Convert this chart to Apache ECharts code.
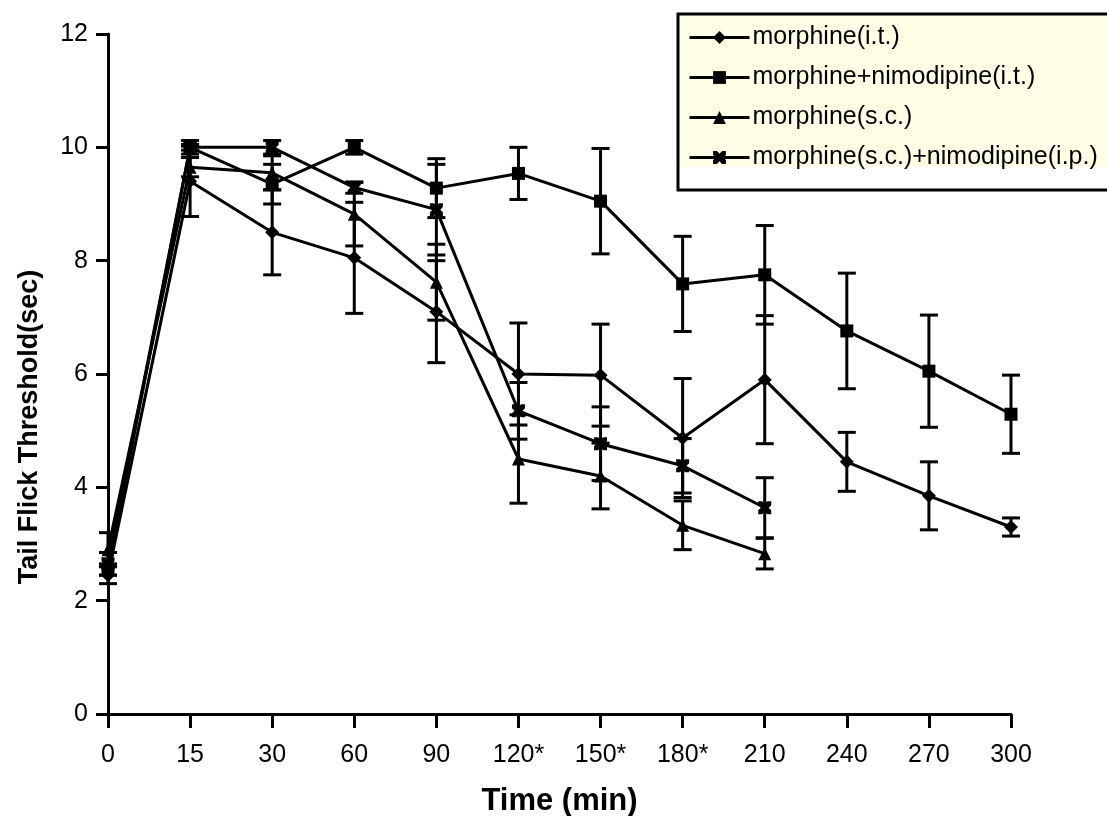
<!DOCTYPE html>
<html>
<head>
<meta charset="utf-8">
<script src="https://cdn.jsdelivr.net/npm/echarts@6/dist/echarts.min.js"></script>
<style>
html,body{margin:0;padding:0;background:#fff;}
#chart{width:1107px;height:816px;}
</style>
</head>
<body>
<div id="chart"></div>
<script>
var categories = ['0','15','30','60','90','120*','150*','180*','210','240','270','300'];
var yTicks = [0, 2, 4, 6, 8, 10, 12];

var seriesNames = ['morphine(i.t.)','morphine+nimodipine(i.t.)','morphine(s.c.)','morphine(s.c.)+nimodipine(i.p.)'];

var morphineIT      = [2.45, 9.4, 8.5, 8.05, 7.1, 6.0, 5.98, 4.87, 5.9, 4.45, 3.85, 3.3];
var morphineITErr   = [0.15, 0.62, 0.75, 0.98, 0.9, 0.9, 0.9, 1.05, 1.13, 0.52, 0.6, 0.16];

var morphineNimoIT    = [2.55, 10.0, 9.35, 10.0, 9.28, 9.54, 9.05, 7.59, 7.75, 6.76, 6.05, 5.29];
var morphineNimoITErr = [0.1, 0.05, 0.35, 0.12, 0.52, 0.46, 0.93, 0.84, 0.87, 1.02, 0.99, 0.69];

var morphineSC      = [2.9, 9.65, 9.55, 8.82, 7.62, 4.5, 4.2, 3.33, 2.83];
var morphineSCErr   = [0.3, 0.17, 0.3, 0.56, 0.67, 0.78, 0.58, 0.43, 0.27];

var morphineSCNimo    = [2.65, 10.0, 10.0, 9.29, 8.9, 5.35, 4.77, 4.38, 3.64];
var morphineSCNimoErr = [0.2, 0.12, 0.12, 0.1, 0.8, 0.5, 0.65, 0.48, 0.53];

var xSymbol = 'path://M0,0L3,0L5,2L7,0L10,0L10,3L8,5L10,7L10,10L7,10L5,8L3,10L0,10L0,7L2,5L0,3Z';

var FONT = '"Liberation Sans", Arial, sans-serif';

function errData(vals, errs) {
  var out = [];
  for (var i = 0; i < vals.length; i++) {
    if (vals[i] == null) continue;
    out.push([i, vals[i] - errs[i], vals[i] + errs[i]]);
  }
  return out;
}

function errSeries(vals, errs) {
  return {
    type: 'custom',
    silent: true,
    z: 2,
    data: errData(vals, errs),
    encode: { x: 0, y: [1, 2] },
    renderItem: function (params, api) {
      var i = api.value(0);
      var lo = api.coord([i, api.value(1)]);
      var hi = api.coord([i, api.value(2)]);
      var hw = 9;
      var st = { stroke: '#000', lineWidth: 3 };
      return {
        type: 'group',
        children: [
          { type: 'line', shape: { x1: lo[0], y1: lo[1], x2: hi[0], y2: hi[1] }, style: st },
          { type: 'line', shape: { x1: lo[0] - hw, y1: lo[1], x2: lo[0] + hw, y2: lo[1] }, style: st },
          { type: 'line', shape: { x1: hi[0] - hw, y1: hi[1], x2: hi[0] + hw, y2: hi[1] }, style: st }
        ]
      };
    }
  };
}

function lineSeries(name, vals, symbol, size) {
  return {
    name: name,
    type: 'line',
    data: vals,
    symbol: symbol,
    symbolSize: size,
    showAllSymbol: true,
    z: 3,
    lineStyle: { color: '#000', width: 3 },
    itemStyle: { color: '#000', borderWidth: 0 },
    emphasis: { disabled: true },
    animation: false
  };
}

var chart = echarts.init(document.getElementById('chart'));
chart.setOption({
  animation: false,
  backgroundColor: '#fff',
  grid: { left: 108, right: 96, top: 34, bottom: 102, containLabel: false, outerBoundsMode: 'none' },
  graphic: [
    { type: 'rect', z: 0, shape: { x: 678, y: 14, width: 460, height: 176 },
      style: { fill: '#fff', stroke: '#000', lineWidth: 3 } },
    { type: 'rect', z: 0, shape: { x: 680, y: 16, width: 440, height: 151 },
      style: { fill: '#FFFFE6' } },
    { type: 'text', z: 5, x: 30, y: 427, rotation: Math.PI / 2,
      style: { text: 'Tail Flick Threshold(sec)', fill: '#000', font: 'bold 27px ' + FONT,
               textAlign: 'center', textVerticalAlign: 'middle' } }
  ],
  legend: {
    z: 10,
    orient: 'vertical',
    left: 688,
    top: 25,
    itemWidth: 60,
    itemHeight: 16,
    itemGap: 15,
    padding: 0,
    data: seriesNames,
    lineStyle: { width: 3, color: '#000' },
    textStyle: { color: '#000', fontSize: 25, fontFamily: FONT, padding: [0, 0, 0, -2] },
    selectedMode: false
  },
  xAxis: {
    type: 'category',
    data: categories,
    boundaryGap: false,
    name: 'Time (min)',
    nameLocation: 'middle',
    nameGap: 72,
    nameTextStyle: { color: '#000', fontSize: 31, fontWeight: 'bold', fontFamily: FONT },
    axisLine: { lineStyle: { color: '#000', width: 3 } },
    axisTick: { length: 14, lineStyle: { color: '#000', width: 3 } },
    axisLabel: { color: '#000', fontSize: 25, fontFamily: FONT, margin: 29, interval: 0 },
    splitLine: { show: false }
  },
  yAxis: {
    type: 'value',
    min: yTicks[0],
    max: yTicks[yTicks.length - 1],
    interval: 2,
    axisLine: { show: true, lineStyle: { color: '#000', width: 3 } },
    axisTick: { show: true, length: 12, lineStyle: { color: '#000', width: 3 } },
    axisLabel: { color: '#000', fontSize: 25, fontFamily: FONT, margin: 20 },
    splitLine: { show: false }
  },
  series: [
    errSeries(morphineIT, morphineITErr),
    errSeries(morphineNimoIT, morphineNimoITErr),
    errSeries(morphineSC, morphineSCErr),
    errSeries(morphineSCNimo, morphineSCNimoErr),
    lineSeries(seriesNames[0], morphineIT, 'diamond', 14),
    lineSeries(seriesNames[1], morphineNimoIT, 'rect', 13),
    lineSeries(seriesNames[2], morphineSC, 'triangle', 13),
    lineSeries(seriesNames[3], morphineSCNimo, xSymbol, 13)
  ]
});
</script>
</body>
</html>
